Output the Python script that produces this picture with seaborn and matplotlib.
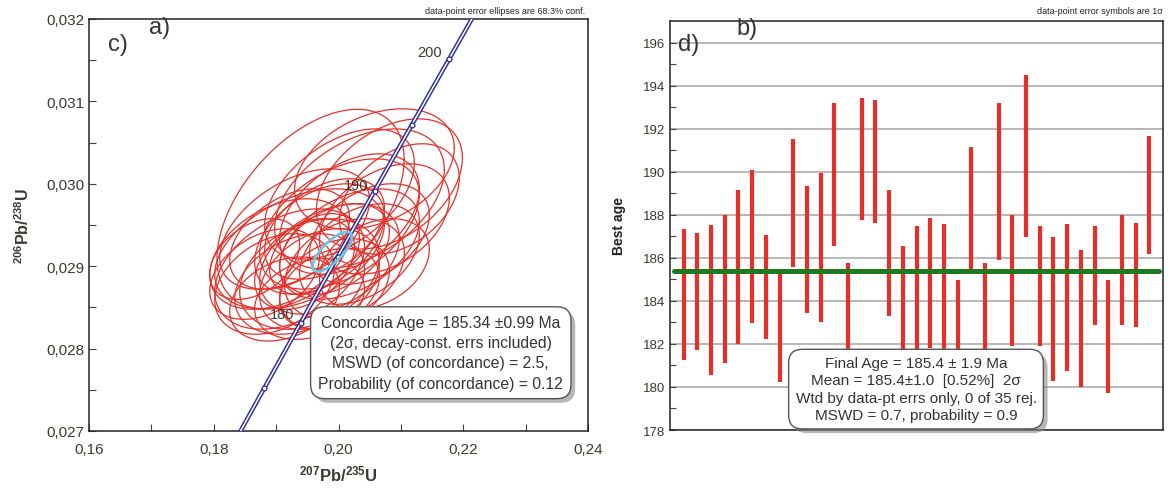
import numpy as np
import matplotlib
matplotlib.use("Agg")
import matplotlib.pyplot as plt
import matplotlib.patheffects as pe
import seaborn as sns
import pandas as pd

# ---------------- data ----------------
# Concordia curve points (age in Ma, 207Pb/235U, 206Pb/238U)
conc_age = [170, 175, 180, 185, 190, 195, 200, 205]
conc_x = [0.182256, 0.188092, 0.193957, 0.199851, 0.205773, 0.211726, 0.217708, 0.223719]
conc_y = [0.026722, 0.027519, 0.028316, 0.029114, 0.029912, 0.030712, 0.031511, 0.032312]
conc_marker_ages = [175, 180, 185, 190, 195, 200]
conc_label_ages = ["180", "190", "200"]
conc_label_x = [0.1910, 0.2029, 0.2146]
conc_label_y = [0.02842, 0.02999, 0.03160]

# Data-point error ellipses: centre, half-extent in x and y, correlation
ell_cx = [0.19552, 0.20816, 0.20576, 0.20336, 0.20016, 0.19376, 0.19216, 0.19536, 0.19856, 0.20176,
          0.19056, 0.19696, 0.19376, 0.18976, 0.18816, 0.20096, 0.20336, 0.19936, 0.19776, 0.20736,
          0.20976, 0.19296, 0.19536, 0.19136, 0.19856, 0.19456, 0.19936, 0.20176, 0.20496, 0.18656,
          0.19616, 0.19216, 0.20576, 0.20016, 0.19696]
ell_cy = [0.029694, 0.029998, 0.030180, 0.029816, 0.029512, 0.029209, 0.028966, 0.028905, 0.029087, 0.029269,
          0.029148, 0.029330, 0.028784, 0.028784, 0.028905, 0.028966, 0.029148, 0.028784, 0.029451, 0.029573,
          0.029816, 0.029451, 0.028602, 0.028602, 0.028723, 0.029027, 0.029209, 0.029633, 0.029391, 0.029087,
          0.029148, 0.029330, 0.029027, 0.029876, 0.028845]
ell_ex = [0.0150, 0.0117, 0.0128, 0.0136, 0.0128, 0.0136, 0.0120, 0.0112, 0.0112, 0.0112,
          0.0112, 0.0104, 0.0104, 0.0096, 0.0088, 0.0096, 0.0096, 0.0088, 0.0096, 0.0104,
          0.0096, 0.0120, 0.0088, 0.0088, 0.0080, 0.0080, 0.0088, 0.0112, 0.0096, 0.0072,
          0.0072, 0.0096, 0.0088, 0.0120, 0.0096]
ell_ey = [0.00121, 0.00079, 0.00073, 0.00085, 0.00079, 0.00073, 0.00073, 0.00067, 0.00067, 0.00067,
          0.00067, 0.00067, 0.00061, 0.00061, 0.00055, 0.00061, 0.00061, 0.00055, 0.00061, 0.00067,
          0.00067, 0.00073, 0.00049, 0.00051, 0.00049, 0.00055, 0.00055, 0.00073, 0.00061, 0.00049,
          0.00049, 0.00061, 0.00055, 0.00079, 0.00061]
ell_rho = [0.50, 0.40, 0.35, 0.42, 0.45, 0.42, 0.38, 0.32, 0.38, 0.42,
           0.38, 0.42, 0.30, 0.32, 0.38, 0.32, 0.38, 0.30, 0.42, 0.38,
           0.38, 0.48, 0.25, 0.30, 0.30, 0.38, 0.38, 0.42, 0.38, 0.38,
           0.38, 0.42, 0.32, 0.48, 0.32]
# Concordia-age ellipse
cage_cx, cage_cy, cage_ex, cage_ey, cage_rho = 0.19899, 0.029176, 0.00315, 0.00024, 0.75

# Weighted-mean panel: error bar ranges for 35 analyses
bar_low = [181.26, 181.71, 180.57, 181.11, 181.99, 182.96, 182.23, 180.21, 185.57, 183.44,
           183.03, 186.54, 180.30, 187.76, 187.60, 183.31, 180.60, 181.50, 181.80, 181.50,
           180.00, 185.49, 180.30, 185.92, 181.90, 186.97, 181.88, 180.29, 180.72, 180.00,
           182.88, 179.71, 182.88, 182.77, 186.16]
bar_high = [187.35, 187.13, 187.53, 188.00, 189.17, 190.10, 187.06, 185.33, 191.54, 189.32,
            189.95, 193.20, 185.77, 193.40, 193.32, 189.17, 186.57, 187.49, 187.84, 187.55,
            184.99, 191.13, 185.77, 193.18, 188.00, 194.48, 187.49, 186.97, 187.55, 186.34,
            187.49, 184.99, 188.00, 187.63, 191.65]
mean_age = 185.4

left_xticks = [0.16, 0.18, 0.20, 0.22, 0.24]
left_xticklabels = ["0,16", "0,18", "0,20", "0,22", "0,24"]
left_yticks = [0.027, 0.028, 0.029, 0.030, 0.031, 0.032]
left_yticklabels = ["0,027", "0,028", "0,029", "0,030", "0,031", "0,032"]
right_yticks = [178, 180, 182, 184, 186, 188, 190, 192, 194, 196]

text_left = ("Concordia Age = 185.34 \u00b10.99 Ma\n(2\u03c3, decay-const. errs included)\n"
             "MSWD (of concordance) = 2.5,\nProbability (of concordance) = 0.12")
text_right = ("Final Age = 185.4 \u00b1 1.9 Ma\nMean = 185.4\u00b11.0  [0.52%]  2\u03c3\n"
              "Wtd by data-pt errs only, 0 of 35 rej.\nMSWD = 0.7, probability = 0.9")

# ---------------- style ----------------
sns.set_theme(style="white")
plt.rcParams['font.family'] = ['Liberation Sans', 'DejaVu Sans']
plt.rcParams['mathtext.fontset'] = 'custom'
plt.rcParams['mathtext.rm'] = 'Liberation Sans'
plt.rcParams['mathtext.bf'] = 'Liberation Sans:bold'

RED = "#e5302a"
NAVY = "#2b2b9a"
TXT = "#3a3a30"

fig = plt.figure(figsize=(11.70, 4.89), dpi=100)
axL = fig.add_axes([89/1170, 1-432/489, (588-89)/1170, (432-20)/489])
axR = fig.add_axes([670/1170, 1-431/489, (1163-670)/1170, (431-22)/489])

# ---------------- left panel ----------------
t = np.linspace(0, 2*np.pi, 240)
for cx, cy, ex, ey, r in zip(ell_cx, ell_cy, ell_ex, ell_ey, ell_rho):
    xs = cx + ex*np.cos(t)
    ys = cy + ey*(r*np.cos(t) + np.sqrt(1-r*r)*np.sin(t))
    axL.plot(xs, ys, color=RED, lw=0.9, zorder=2)

conc = pd.DataFrame({"age": conc_age, "x": conc_x, "y": conc_y})
sns.lineplot(data=conc, x="x", y="y", ax=axL, color=NAVY, lw=3.2, sort=False, zorder=3)
sns.lineplot(data=conc, x="x", y="y", ax=axL, color="white", lw=1.1, sort=False, zorder=4)
mk = conc[conc["age"].isin(conc_marker_ages)]
axL.scatter(mk["x"], mk["y"], s=12, facecolors="white", edgecolors=NAVY, lw=0.9, zorder=5)

xs = cage_cx + cage_ex*np.cos(t)
ys = cage_cy + cage_ey*(cage_rho*np.cos(t) + np.sqrt(1-cage_rho**2)*np.sin(t))
axL.plot(xs, ys, color="#6cc3e6", lw=2.0, zorder=6)

for lab, lx, ly in zip(conc_label_ages, conc_label_x, conc_label_y):
    axL.text(lx, ly, lab, fontsize=10.5, color=TXT, ha="center", va="center", zorder=7)

axL.set_xlim(0.16, 0.24)
axL.set_ylim(0.027, 0.032)
axL.set_xticks(left_xticks)
axL.set_xticklabels(left_xticklabels)
axL.set_yticks(left_yticks)
axL.set_yticklabels(left_yticklabels)
axL.set_xticks([0.17, 0.19, 0.21, 0.23], minor=True)
axL.set_yticks([0.0275, 0.0285, 0.0295, 0.0305, 0.0315], minor=True)
axL.tick_params(which="both", direction="in", length=5, width=0.8, color="#444444",
                labelsize=11, labelcolor=TXT, left=True, bottom=True)
axL.tick_params(axis="x", pad=8)
axL.set_xlabel(r"$\mathbf{^{207}Pb/^{235}U}$", fontsize=12, color=TXT, labelpad=5)
axL.set_ylabel(r"$\mathbf{^{206}Pb/^{238}U}$", fontsize=11.5, color=TXT, labelpad=10)
for s in axL.spines.values():
    s.set_color("#222222"); s.set_linewidth(1.1)

tl = axL.text(0.705, 0.19, text_left, transform=axL.transAxes, ha="center", va="center",
              fontsize=11.3, color="#333333", linespacing=1.45, zorder=10,
              bbox=dict(boxstyle="round,pad=0.5,rounding_size=0.9", fc="white", ec="#555555", lw=1.0))
tl.get_bbox_patch().set_path_effects([pe.SimplePatchShadow(offset=(3, -3), shadow_rgbFace="#888888", alpha=0.6), pe.Normal()])

fig.text(585/1170, 1-12/489, "data-point error ellipses are 68.3% conf.", fontsize=6.5,
         ha="right", va="center", color="#222222")
fig.text(108/1170, 1-45/489, "c)", fontsize=17, color="#333333", ha="left", va="center")
fig.text(149/1170, 1-28/489, "a)", fontsize=17, color="#333333", ha="left", va="center")

# ---------------- right panel ----------------
idx = np.arange(1, len(bar_low)+1)
bars = pd.DataFrame({"i": idx, "lo": bar_low, "hi": bar_high})
axR.vlines(bars["i"], bars["lo"], bars["hi"], color=RED, lw=3.0, zorder=3)
line_df = pd.DataFrame({"x": [0.3, len(idx)+0.7], "y": [mean_age, mean_age]})
sns.lineplot(data=line_df, x="x", y="y", ax=axR, color="#1e7a1e", lw=3.6, zorder=4)
axR.set_xlim(0, len(idx)+1)
axR.set_ylim(178, 197)
axR.set_yticks(right_yticks)
axR.set_yticklabels([str(v) for v in right_yticks])
axR.set_yticks(np.arange(179, 197, 2), minor=True)
axR.set_xticks([])
axR.grid(axis="y", which="major", color="#ababab", lw=1.2, zorder=0)
axR.set_axisbelow(True)
axR.tick_params(axis="y", which="both", direction="in", length=4, width=0.8, color="#444444",
                labelsize=9.5, labelcolor=TXT, left=True)
axR.set_ylabel("Best age", fontsize=10, fontweight="bold", color="#222222", labelpad=12)
axR.set_xlabel("")
for s in axR.spines.values():
    s.set_color("#222222"); s.set_linewidth(1.1)

tr = axR.text(0.499, 0.10, text_right, transform=axR.transAxes, ha="center", va="center",
              fontsize=11, color="#333333", linespacing=1.3, zorder=10,
              bbox=dict(boxstyle="round,pad=0.45,rounding_size=0.9", fc="white", ec="#555555", lw=1.0))
tr.get_bbox_patch().set_path_effects([pe.SimplePatchShadow(offset=(3, -3), shadow_rgbFace="#888888", alpha=0.6), pe.Normal()])

fig.text(1163/1170, 1-12/489, "data-point error symbols are 1\u03c3", fontsize=6.5,
         ha="right", va="center", color="#222222")
fig.text(678/1170, 1-45/489, "d)", fontsize=17, color="#333333", ha="left", va="center")
fig.text(736/1170, 1-29/489, "b)", fontsize=17, color="#333333", ha="left", va="center")

fig.savefig("out.png", dpi=100, facecolor="white")
